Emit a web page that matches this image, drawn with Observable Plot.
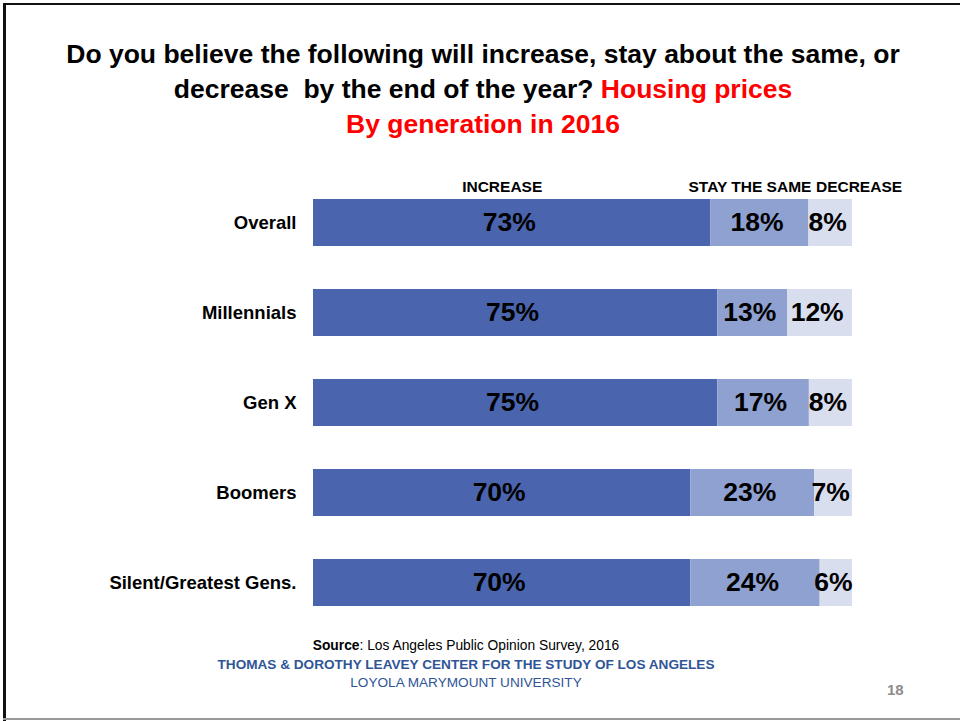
<!DOCTYPE html>
<html>
<head>
<meta charset="utf-8">
<script src="https://cdn.jsdelivr.net/npm/d3@7"></script>
<script src="https://cdn.jsdelivr.net/npm/@observablehq/plot@0.6"></script>
<style>
  html, body { margin: 0; padding: 0; background: #fff; }
  #slide { position: relative; width: 960px; height: 721px; overflow: hidden; font-family: "Liberation Sans", Arial, sans-serif; }
  #bt { position: absolute; left: 3px; top: 3px; width: 957px; height: 2px; background: #111; }
  #bl { position: absolute; left: 3px; top: 3px; width: 3px; height: 718px; background: #111; }
  #bb { position: absolute; left: 3px; top: 718px; width: 957px; height: 2px; background: #999; }
  #title { position: absolute; left: 0; top: 37px; width: 966px; text-align: center; font-weight: bold; font-size: 26.5px; line-height: 35px; color: #000; letter-spacing: 0px; }
  #title .red { color: #ff0000; }
  #chart { position: absolute; left: 0; top: 149px; }
  #footer { position: absolute; left: 0; top: 637px; width: 932px; text-align: center; font-size: 13.6px; line-height: 18.5px; }
  #footer .src { color: #000; font-size: 13.8px; }
  #footer .ctr { color: #2f5597; font-weight: bold; }
  #footer .uni { color: #2f5597; }
  #page { position: absolute; left: 887px; top: 681px; font-size: 15px; font-weight: bold; color: #8c8c8c; }
</style>
</head>
<body>
<div id="slide">
  <div id="bt"></div><div id="bl"></div><div id="bb"></div>
  <div id="title">Do you believe the following will increase, stay about the same, or<br>decrease&nbsp; by the end of the year? <span class="red">Housing prices</span><br><span class="red">By generation in 2016</span></div>
  <div id="chart"></div>
  <div id="footer"><div class="src"><b>Source</b>: Los Angeles Public Opinion Survey, 2016</div><div class="ctr">THOMAS &amp; DOROTHY LEAVEY CENTER FOR THE STUDY OF LOS ANGELES</div><div class="uni">LOYOLA MARYMOUNT UNIVERSITY</div></div>
  <div id="page">18</div>
</div>
<script>
const generations = ["Overall", "Millennials", "Gen X", "Boomers", "Silent/Greatest Gens."];
const responses = ["INCREASE", "STAY THE SAME", "DECREASE"];
const increase = [73, 75, 75, 70, 70];
const staySame = [18, 13, 17, 23, 24];
const decrease = [8, 12, 8, 7, 6];
const colors = ["#4a64ad", "#8fa1d0", "#d9deef"];

const series = [increase, staySame, decrease];
const data = [];
generations.forEach((g, i) => {
  responses.forEach((r, j) => {
    data.push({generation: g, response: r, value: series[j][i]});
  });
});

const stackOpts = {x: "value", y: "generation", z: "response", order: responses, offset: "normalize"};
const headerText = (resp) => d => (d.generation === generations[0] && d.response === resp) ? d.response : null;
const headerStyle = {fontSize: 15.5, fontWeight: "bold", fill: "#000", dy: -36};

const plot = Plot.plot({
  width: 960,
  height: 500,
  marginLeft: 313,
  marginRight: 108,
  marginTop: 6,
  marginBottom: 0,
  style: {fontFamily: "'Liberation Sans', Arial, sans-serif", background: "transparent"},
  x: {axis: null, domain: [0, 1]},
  y: {domain: generations, padding: 0.48, label: null, axis: null},
  color: {domain: responses, range: colors},
  marks: [
    Plot.barX(data, Plot.stackX({...stackOpts, fill: "response"})),
    Plot.text(data, Plot.stackX({...stackOpts, text: d => d.value + "%", fontSize: 26.5, fontWeight: "bold", fill: "#000", dx: -3})),
    Plot.text(data, Plot.stackX({...stackOpts, text: headerText(responses[0]), ...headerStyle, dx: -10})),
    Plot.text(data, Plot.stackX({...stackOpts, text: headerText(responses[1]), ...headerStyle, dx: -10})),
    Plot.text(data, Plot.stackX1({...stackOpts, text: headerText(responses[2]), ...headerStyle, textAnchor: "start", dx: 7})),
    Plot.axisY({tickSize: 0, tickPadding: 17, fontSize: 18.5, fontWeight: "bold", fill: "#000", label: null})
  ]
});
document.getElementById("chart").appendChild(plot);
</script>
</body>
</html>
